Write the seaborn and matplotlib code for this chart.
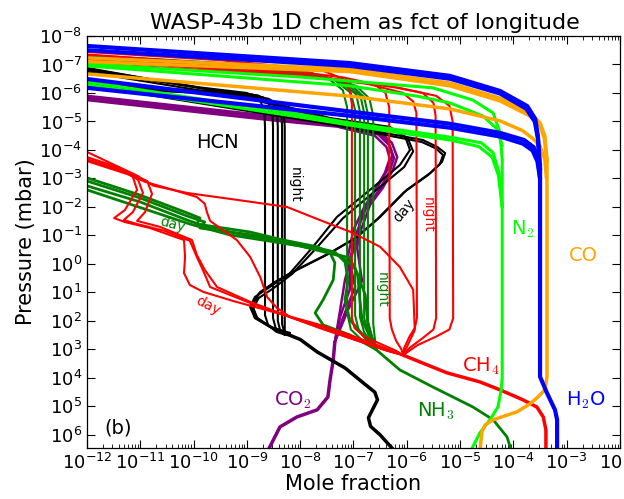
import numpy as np
import matplotlib
matplotlib.use("Agg")
import matplotlib.pyplot as plt
from matplotlib.ticker import LogLocator, NullFormatter
import seaborn as sns

# profiles: (log10 mole fraction, log10 pressure [mbar])
h2o_curves = [
    [(-12.0, -7.65), (-7.07, -7.05), (-5.19, -6.60), (-4.25, -6.07), (-3.74, -5.54), (-3.59, -5.09), (-3.54, -4.49), (-3.50, -3.3)],
    [(-12.0, -7.50), (-7.07, -6.95), (-5.19, -6.50), (-4.25, -5.98), (-3.76, -5.45), (-3.60, -5.00), (-3.54, -4.40), (-3.50, -3.3)],
    [(-12.0, -6.49), (-7.07, -5.35), (-5.19, -4.92), (-4.25, -4.60), (-3.80, -4.35), (-3.62, -4.10), (-3.54, -3.70), (-3.50, -3.0)],
    [(-12.0, -6.18), (-7.07, -5.20), (-5.19, -4.78), (-4.25, -4.47), (-3.82, -4.22), (-3.64, -3.98), (-3.55, -3.60), (-3.50, -3.0)],
]
h2o_deep = [(-3.50, -3.5), (-3.50, 3.96), (-3.37, 4.53), (-3.22, 5.12), (-3.18, 5.47), (-3.18, 6.6)]

co_curves = [
    [(-12.0, -7.23), (-7.07, -6.84), (-5.19, -6.35), (-4.25, -5.82), (-3.69, -5.30), (-3.50, -4.95), (-3.41, -4.49), (-3.37, -3.65)],
    [(-12.0, -7.10), (-7.07, -6.75), (-5.19, -6.25), (-4.25, -5.72), (-3.70, -5.20), (-3.50, -4.85), (-3.42, -4.40), (-3.37, -3.60)],
    [(-12.0, -6.67), (-7.07, -5.89), (-5.19, -5.44), (-4.25, -5.02), (-3.82, -4.67), (-3.63, -4.39), (-3.50, -4.14), (-3.41, -3.65), (-3.38, -3.0)],
]
co_deep = [(-3.37, -3.65), (-3.37, 3.96), (-3.41, 4.42), (-3.54, 4.67), (-3.69, 4.91), (-3.93, 5.19),
           (-4.38, 5.47), (-4.53, 5.65), (-4.59, 5.89), (-4.63, 6.6)]

n2_curves = [
    [(-12.0, -7.02), (-8.0, -6.56), (-5.51, -6.18), (-4.76, -5.75), (-4.38, -5.30), (-4.25, -4.60), (-4.21, -3.65)],
    [(-12.0, -6.95), (-7.07, -6.25), (-5.81, -5.89), (-5.19, -5.65), (-4.57, -5.19), (-4.31, -4.74), (-4.21, -4.14)],
    [(-12.0, -6.40), (-8.0, -5.25), (-7.07, -4.95), (-6.13, -4.70), (-5.19, -4.45), (-4.60, -4.25), (-4.38, -3.90), (-4.27, -3.20), (-4.21, -2.0)],
    [(-12.0, -6.30), (-8.0, -5.15), (-7.07, -4.87), (-6.13, -4.60), (-5.19, -4.35), (-4.65, -4.12), (-4.40, -3.75), (-4.28, -3.10), (-4.21, -2.0)],
]
n2_deep = [(-4.21, -3.65), (-4.21, 4.0), (-4.23, 4.42), (-4.29, 5.02), (-4.44, 5.47), (-4.63, 5.93), (-4.81, 6.6)]

ch4_night = [
    [(-12.0, -7.44), (-9.5, -7.15), (-7.6, -6.80), (-7.2, -6.50), (-7.07, -6.10), (-7.03, -5.60), (-7.03, 1.9),
     (-6.98, 2.25), (-6.8, 2.55), (-6.5, 2.80), (-6.2, 3.05), (-6.07, 3.2)],
    [(-12.0, -7.35), (-9.0, -6.95), (-7.2, -6.55), (-6.6, -6.30), (-6.4, -6.00), (-6.33, -5.50), (-6.32, 1.9),
     (-6.28, 2.3), (-6.2, 2.7), (-6.1, 3.0), (-6.07, 3.2)],
    [(-12.0, -7.25), (-9.0, -6.85), (-6.9, -6.40), (-6.07, -6.00), (-5.88, -5.70), (-5.82, -5.30), (-5.81, 1.9),
     (-5.85, 2.25), (-5.95, 2.55), (-6.05, 2.95), (-6.07, 3.2)],
    [(-12.0, -7.15), (-8.5, -6.70), (-6.5, -6.30), (-5.7, -6.00), (-5.5, -5.65), (-5.46, -5.20), (-5.45, 1.9),
     (-5.5, 2.3), (-5.7, 2.6), (-5.95, 2.95), (-6.07, 3.2)],
    [(-12.0, -7.05), (-8.0, -6.60), (-6.2, -6.20), (-5.45, -5.90), (-5.2, -5.55), (-5.14, -5.00), (-5.13, 1.9),
     (-5.2, 2.3), (-5.45, 2.55), (-5.8, 2.85), (-6.07, 3.2)],
]
ch4_day = [
    [(-12.0, -3.93), (-11.06, -3.10), (-10.76, -2.75), (-10.12, -2.49), (-9.19, -2.25), (-8.25, -2.0), (-7.63, -1.54),
     (-7.01, -1.09), (-6.50, -0.60), (-6.13, 0.11), (-5.88, 0.91), (-5.85, 2.32), (-5.98, 2.84), (-6.07, 3.2)],
    [(-12.0, -3.75), (-11.38, -3.37), (-11.14, -3.05), (-11.06, -2.60), (-11.29, -1.89), (-11.49, -1.61),
     (-11.29, -1.47), (-10.82, -1.26), (-10.18, -0.84), (-10.16, -0.25), (-10.18, 0.32), (-10.07, 0.74),
     (-9.82, 0.98), (-9.26, 1.30), (-8.44, 1.72), (-7.68, 2.11), (-7.07, 2.49), (-6.41, 2.95), (-6.07, 3.2)],
    [(-12.0, -3.68), (-11.35, -3.30), (-11.04, -2.95), (-10.95, -2.49), (-11.14, -1.82), (-11.31, -1.54),
     (-11.06, -1.40), (-10.54, -1.16), (-10.07, -0.81), (-9.94, -0.25), (-9.80, 0.32), (-9.69, 0.81),
     (-8.94, 1.37), (-7.68, 2.21), (-6.41, 3.02), (-6.07, 3.2)],
    [(-12.0, -3.65), (-11.29, -3.23), (-10.87, -2.91), (-10.78, -2.46), (-10.91, -1.82), (-11.06, -1.51),
     (-10.63, -1.30), (-10.03, -0.84), (-9.94, -0.32), (-9.79, 0.21), (-9.56, 0.81), (-8.94, 1.33),
     (-7.63, 2.25), (-6.41, 3.02), (-6.07, 3.2)],
    [(-12.0, -3.61), (-11.19, -3.12), (-10.91, -2.88), (-10.44, -2.63), (-9.94, -2.35), (-9.79, -2.11),
     (-9.75, -1.82), (-9.69, -1.51), (-9.19, -0.84), (-8.94, -0.25), (-8.75, 0.46), (-8.62, 1.16),
     (-8.44, 1.54), (-8.19, 1.86), (-7.57, 2.21), (-6.41, 3.02), (-6.07, 3.2)],
]
ch4_deep = [(-6.07, 3.2), (-5.25, 3.82), (-4.63, 4.14), (-4.25, 4.42), (-3.82, 4.77), (-3.56, 5.02),
            (-3.44, 5.37), (-3.39, 5.82), (-3.39, 6.6)]

nh3_night = [
    [(-12.0, -7.33), (-9.0, -7.00), (-8.0, -6.80), (-7.5, -6.55), (-7.2, -6.10), (-7.12, -5.50), (-7.12, 1.7),
     (-7.05, 2.3), (-6.8, 2.75), (-6.58, 3.0)],
    [(-12.0, -7.30), (-9.0, -6.97), (-7.9, -6.75), (-7.35, -6.45), (-7.05, -6.00), (-6.97, -5.40), (-6.97, 1.8),
     (-6.9, 2.35), (-6.7, 2.8), (-6.58, 3.0)],
    [(-12.0, -7.27), (-9.0, -6.93), (-7.8, -6.70), (-7.25, -6.40), (-6.95, -5.95), (-6.88, -5.35), (-6.88, 1.85),
     (-6.8, 2.4), (-6.62, 2.85), (-6.58, 3.0)],
    [(-12.0, -7.24), (-9.0, -6.90), (-7.7, -6.65), (-7.15, -6.35), (-6.87, -5.90), (-6.80, -5.30), (-6.80, 1.9),
     (-6.72, 2.45), (-6.6, 2.85), (-6.58, 3.0)],
    [(-12.0, -7.20), (-9.0, -6.86), (-7.6, -6.60), (-7.05, -6.30), (-6.8, -5.85), (-6.73, -5.25), (-6.73, 2.0),
     (-6.66, 2.5), (-6.58, 3.0)],
    [(-12.0, -7.17), (-9.0, -6.82), (-7.5, -6.55), (-6.95, -6.25), (-6.7, -5.80), (-6.63, -5.20), (-6.63, 2.1),
     (-6.6, 2.6), (-6.58, 3.0)],
]
nh3_day = [
    [(-12.0, -3.02), (-11.01, -2.42), (-10.12, -1.79), (-9.88, -1.61), (-9.94, -1.40), (-9.69, -1.33),
     (-8.94, -1.12), (-8.32, -0.84), (-7.68, -0.60), (-7.44, -0.39), (-7.35, -0.04), (-7.38, 0.56),
     (-7.57, 1.26), (-7.72, 1.72), (-7.57, 2.14), (-7.07, 2.49), (-6.58, 3.0)],
    [(-12.0, -2.91), (-11.01, -2.32), (-10.12, -1.68), (-9.79, -1.47), (-9.88, -1.26), (-9.60, -1.19),
     (-8.75, -0.98), (-8.0, -0.70), (-7.35, -0.42), (-7.16, -0.07), (-7.10, 0.56), (-7.16, 1.26),
     (-7.07, 1.96), (-6.58, 3.0)],
    [(-12.0, -2.74), (-11.01, -2.18), (-10.12, -1.54), (-9.69, -1.26), (-8.75, -0.91), (-7.63, -0.49),
     (-7.07, -0.21), (-6.92, 0.39), (-6.88, 1.26), (-6.84, 1.96), (-6.58, 3.0)],
    [(-12.0, -2.60), (-10.07, -1.40), (-9.32, -1.02), (-8.0, -0.63), (-7.25, -0.28), (-6.97, 0.14),
     (-6.78, 1.09), (-6.73, 2.14), (-6.58, 3.0)],
]
nh3_deep = [(-6.58, 3.0), (-6.13, 3.72), (-5.51, 4.32), (-4.76, 5.02), (-4.38, 5.47), (-4.12, 6.07), (-4.03, 6.6)]

hcn_night = [
    [(-12.0, -6.85), (-9.9, -6.20), (-9.0, -6.00), (-8.75, -5.75), (-8.67, -5.30), (-8.66, -4.8), (-8.66, 1.8),
     (-8.6, 2.15), (-8.45, 2.38), (-8.29, 2.48)],
    [(-12.0, -6.80), (-9.8, -6.15), (-8.9, -5.95), (-8.6, -5.70), (-8.52, -5.25), (-8.51, -4.8), (-8.51, 1.9),
     (-8.46, 2.25), (-8.29, 2.48)],
    [(-12.0, -6.30), (-9.6, -6.05), (-8.8, -5.92), (-8.5, -5.65), (-8.43, -5.20), (-8.42, -4.8), (-8.42, 2.0),
     (-8.38, 2.3), (-8.29, 2.48)],
    [(-12.0, -6.25), (-9.5, -6.00), (-8.7, -5.85), (-8.42, -5.60), (-8.35, -5.15), (-8.34, -4.8), (-8.34, 2.1),
     (-8.3, 2.4), (-8.25, 2.5)],
    [(-12.0, -6.20), (-9.4, -5.95), (-8.6, -5.80), (-8.36, -5.55), (-8.30, -5.10), (-8.29, -4.8), (-8.29, 2.5)],
]
hcn_day = [
    [(-12.0, -6.88), (-8.94, -5.86), (-7.44, -5.12), (-6.32, -4.81), (-6.03, -4.46), (-5.94, -4.00), (-6.13, -3.47),
     (-6.69, -2.60), (-7.31, -1.65), (-7.76, -0.60), (-8.19, 0.32), (-8.57, 0.81), (-8.85, 1.16), (-8.94, 1.51),
     (-8.85, 1.89), (-8.57, 2.21), (-8.19, 2.42)],
    [(-12.0, -6.74), (-8.94, -5.80), (-7.44, -5.05), (-6.30, -4.75), (-5.98, -4.40), (-5.88, -3.95), (-6.05, -3.40),
     (-6.60, -2.55), (-7.20, -1.60), (-7.70, -0.55), (-8.15, 0.35), (-8.50, 0.85), (-8.78, 1.20), (-8.88, 1.55),
     (-8.80, 1.92), (-8.50, 2.25), (-8.19, 2.45)],
    [(-12.0, -6.32), (-7.44, -4.95), (-5.70, -4.35), (-5.43, -4.11), (-5.28, -3.89), (-5.34, -3.58), (-5.56, -3.19),
     (-6.00, -2.60), (-6.50, -1.65), (-6.93, -0.95), (-7.44, -0.39), (-8.00, 0.14), (-8.47, 0.63), (-8.75, 0.98),
     (-8.90, 1.44), (-8.83, 1.86), (-8.53, 2.25), (-8.19, 2.46)],
    [(-12.0, -6.28), (-7.44, -4.90), (-5.72, -4.28), (-5.45, -4.05), (-5.32, -3.82), (-5.38, -3.50), (-5.60, -3.12),
     (-6.05, -2.52), (-6.55, -1.58), (-6.98, -0.88), (-7.50, -0.32), (-8.05, 0.20), (-8.50, 0.68), (-8.78, 1.05),
     (-8.92, 1.50), (-8.85, 1.90), (-8.50, 2.28), (-8.19, 2.47)],
]
hcn_deep = [(-8.4, 2.35), (-8.0, 2.65), (-7.68, 3.09), (-7.16, 3.65), (-6.80, 4.20), (-6.60, 4.50), (-6.55, 4.77),
            (-6.64, 5.10), (-6.72, 5.40), (-6.68, 5.70), (-6.50, 6.0), (-6.26, 6.5), (-6.20, 6.6)]

co2_curves = [
    [(-12.0, -5.86), (-8.57, -5.16), (-7.31, -4.95), (-6.50, -4.63), (-6.28, -4.25), (-6.18, -3.75), (-6.26, -3.30),
     (-6.45, -2.67), (-6.69, -2.07), (-6.88, -1.09), (-7.03, -0.32), (-7.16, 0.56), (-7.25, 1.61), (-7.35, 2.74)],
    [(-12.0, -5.80), (-8.57, -5.10), (-7.31, -4.88), (-6.54, -4.55), (-6.32, -4.15), (-6.24, -3.72), (-6.32, -3.25),
     (-6.50, -2.65), (-6.78, -1.90), (-6.97, -0.95), (-7.07, -0.10), (-7.07, 0.90), (-7.25, 1.85), (-7.35, 2.74)],
    [(-12.0, -5.75), (-8.57, -5.05), (-7.31, -4.82), (-6.60, -4.50), (-6.38, -4.10), (-6.32, -3.70), (-6.41, -3.20),
     (-6.63, -2.50), (-6.88, -1.55), (-6.93, -0.55), (-6.84, 0.60), (-7.10, 1.60), (-7.35, 2.74)],
    [(-12.0, -5.90), (-8.57, -5.20), (-7.31, -4.98), (-6.55, -4.65), (-6.35, -4.30), (-6.27, -3.80), (-6.35, -3.35),
     (-6.55, -2.70), (-6.80, -2.00), (-7.00, -1.20), (-7.10, -0.30), (-6.97, 0.80), (-7.20, 1.90), (-7.35, 2.74)],
]
co2_deep = [(-7.35, 2.74), (-7.38, 3.37), (-7.44, 4.07), (-7.48, 4.67), (-7.68, 5.12), (-8.06, 5.37),
            (-8.38, 5.72), (-8.57, 6.42), (-8.62, 6.6)]

sns.set_style("ticks")
plt.rcParams["font.family"] = ["DejaVu Sans"]
plt.rcParams["mathtext.fontset"] = "dejavusans"
for k in ["text.color", "axes.labelcolor", "xtick.color", "ytick.color", "axes.edgecolor"]:
    plt.rcParams[k] = "black"

fig = plt.figure(figsize=(6.24, 4.99), dpi=100)
ax = fig.add_axes([0.1394, 0.1022, 0.8542, 0.8257])
ax.set_xscale("log")
ax.set_yscale("log")


def draw(curve, color, lw):
    lx, lp = zip(*curve)
    sns.lineplot(x=10.0 ** np.array(lx), y=10.0 ** np.array(lp), sort=False, estimator=None,
                 color=color, lw=lw, ax=ax)


for c in co2_curves:
    draw(c, "#800080", 1.8)
draw(co2_deep, "#800080", 2.5)
for c in hcn_night + hcn_day:
    draw(c, "black", 1.5)
draw(hcn_deep, "black", 2.5)
for c in nh3_night:
    draw(c, "#008000", 1.5)
for c in nh3_day:
    draw(c, "#008000", 2.0)
draw(nh3_deep, "#008000", 2.0)
for c in ch4_night + ch4_day:
    draw(c, "red", 1.5)
draw(ch4_deep, "red", 2.5)
for c in n2_curves:
    draw(c, "#00ff00", 2.2)
draw(n2_deep, "#00ff00", 2.2)
for c in co_curves:
    draw(c, "orange", 2.5)
draw(co_deep, "orange", 2.5)
for c in h2o_curves:
    draw(c, "blue", 3.0)
draw(h2o_deep, "blue", 3.0)

ax.set_xlim(1e-12, 1e-2)
ax.set_ylim(10 ** 6.46, 1e-8)
ax.xaxis.set_major_locator(LogLocator(base=10, numticks=30))
ax.yaxis.set_major_locator(LogLocator(base=10, numticks=30))
ax.xaxis.set_minor_locator(LogLocator(base=10, subs=np.arange(2, 10), numticks=30))
ax.xaxis.set_minor_formatter(NullFormatter())
ax.yaxis.set_minor_locator(LogLocator(base=10, subs=[], numticks=30))
ax.tick_params(which="both", direction="in", top=True, right=True, labelsize=13)
ax.tick_params(which="major", length=6, width=0.8)
ax.tick_params(which="minor", length=3, width=0.6)
for s in ax.spines.values():
    s.set_linewidth(0.9)
ax.set_xlabel("Mole fraction", fontsize=15, labelpad=1)
ax.set_ylabel("Pressure (mbar)", fontsize=15, labelpad=2)
ax.set_title("WASP-43b 1D chem as fct of longitude", fontsize=16, pad=5, x=0.522)

lab = dict(fontsize=14, ha="center", va="center", math_fontfamily="cm")
ax.text(10 ** -9.56, 10 ** -4.25, "HCN", color="black", **lab)
ax.text(10 ** -3.82, 10 ** -1.23, "N$_2$", color="#00ff00", **lab)
ax.text(10 ** -2.69, 10 ** -0.28, "CO", color="orange", **lab)
ax.text(10 ** -4.61, 10 ** 3.58, "CH$_4$", color="red", **lab)
ax.text(10 ** -2.64, 10 ** 4.77, "H$_2$O", color="blue", **lab)
ax.text(10 ** -5.45, 10 ** 5.19, "NH$_3$", color="#008000", **lab)
ax.text(10 ** -8.13, 10 ** 4.77, "CO$_2$", color="#800080", **lab)
ax.text(10 ** -11.42, 10 ** 5.75, "(b)", color="black", **lab)

small = dict(fontsize=10, ha="center", va="center")
ax.text(10 ** -8.10, 10 ** -2.77, "night", color="black", rotation=-90, **small)
ax.text(10 ** -5.60, 10 ** -1.72, "night", color="red", rotation=-90, **small)
ax.text(10 ** -6.47, 10 ** 0.91, "night", color="#008000", rotation=-90, **small)
ax.text(10 ** -6.05, 10 ** -1.86, "day", color="black", rotation=50, **small)
ax.text(10 ** -9.73, 10 ** 1.47, "day", color="red", rotation=-28, **small)
ax.text(10 ** -10.39, 10 ** -1.37, "day", color="#008000", rotation=-15, **small)

fig.savefig("out.png", dpi=100)
